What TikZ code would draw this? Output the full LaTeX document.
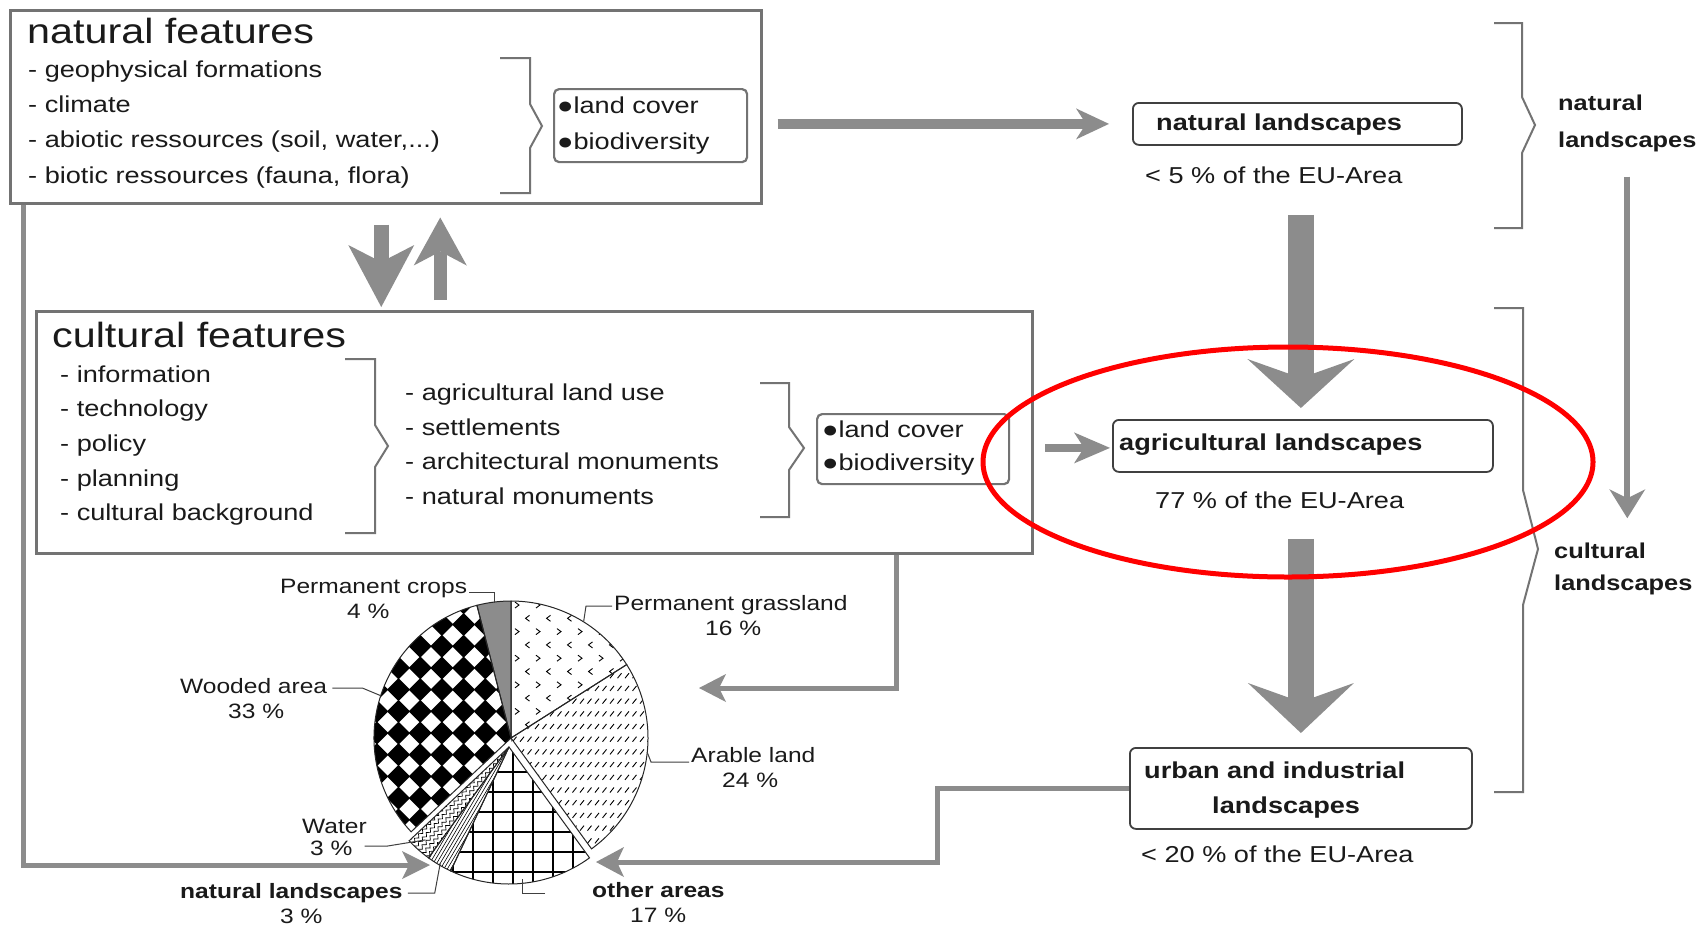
\documentclass[tikz,border=0pt]{standalone}
\usepackage{fontspec}
\setmainfont[FakeStretch=1.18]{Liberation Sans}
\usetikzlibrary{arrows.meta,calc,decorations.pathmorphing}
\definecolor{arr}{HTML}{8C8C8C}
\definecolor{boxc}{HTML}{737373}
\definecolor{ink}{HTML}{1A1A1A}
\newcommand\mybody{\fontsize{23}{28}\selectfont}
\newcommand\mytitle{\fontsize{35}{40}\selectfont}
\newcommand\mypie{\fontsize{20.8}{25}\selectfont}
\newcommand\myright{\fontsize{21.5}{26}\selectfont\bfseries}
\begin{document}
\begin{tikzpicture}[x=1pt,y=1pt,
  every node/.style={inner sep=0pt, text=ink},
  fbox/.style={draw=boxc, line width=2.5pt, anchor=north west},
  lcbox/.style={draw=boxc, line width=2.2pt, rounded corners=5pt, anchor=north west},
  lsbox/.style={draw=black!75, line width=1.8pt, rounded corners=6pt, anchor=north west},
  tx/.style={anchor=base west, font=\mybody},
  tb/.style={anchor=base west, font=\mybody\bfseries},
  ttl/.style={anchor=base west, font=\mytitle},
  tp/.style={anchor=base west, font=\mypie},
  tpb/.style={anchor=base west, font=\mypie\bfseries},
  tr/.style={anchor=base west, font=\myright},
  brc/.style={draw=boxc, line width=2pt},
  leader/.style={draw=black!75, line width=1pt},
  slc/.style={draw=black!85, line width=1pt}
]
\useasboundingbox (0,0) rectangle (1704,-929);
\fill[white] (0,0) rectangle (1704,-929);

% ---------- natural features ----------
\node[fbox, minimum width=751pt, minimum height=193pt] (nf) at (9,-9) {};
\node[ttl] (nft) at (27,-43) {natural features};
\node[tx] (nf1) at (28,-77) {- geophysical formations};
\node[tx] (nf2) at (28,-112) {- climate};
\node[tx] (nf3) at (28,-147) {- abiotic ressources (soil, water,...)};
\node[tx] (nf4) at (28,-183) {- biotic ressources (fauna, flora)};
\draw[brc] (500,-58) -- (530,-58) -- (530,-104) -- (542,-126) -- (530,-148) -- (530,-193) -- (500,-193);
\node[lcbox, minimum width=193pt, minimum height=73pt] (lc1) at (553,-88) {};
\node[tx] (lc1a) at (557,-113) {●land cover};
\node[tx] (lc1b) at (557,-149) {●biodiversity};

% ---------- cultural features ----------
\node[fbox, minimum width=996pt, minimum height=242pt] (cf) at (35,-310) {};
\node[ttl] (cft) at (52,-347) {cultural features};
\node[tx] (c11) at (60,-382) {- information};
\node[tx] (c12) at (60,-416) {- technology};
\node[tx] (c13) at (60,-451) {- policy};
\node[tx] (c14) at (60,-486) {- planning};
\node[tx] (c15) at (60,-520) {- cultural background};
\draw[brc] (345,-359) -- (375,-359) -- (375,-425) -- (388,-446) -- (375,-467) -- (375,-533) -- (345,-533);
\node[tx] (c21) at (405,-400) {- agricultural land use};
\node[tx] (c22) at (405,-435) {- settlements};
\node[tx] (c23) at (405,-469) {- architectural monuments};
\node[tx] (c24) at (405,-504) {- natural monuments};
\draw[brc] (760,-383) -- (789,-383) -- (789,-427) -- (804,-448) -- (789,-470) -- (789,-517) -- (760,-517);
\node[lcbox, minimum width=192pt, minimum height=70pt] (lc2) at (816,-413) {};
\node[tx] (lc2a) at (822,-437) {●land cover};
\node[tx] (lc2b) at (822,-470) {●biodiversity};

% ---------- landscapes ----------
\node[lsbox, minimum width=329pt, minimum height=42pt] (natl) at (1132,-102) {};
\node[tb] (natlt) at (1156,-130) {natural landscapes};
\node[tx] (natlp) at (1145,-183) {< 5 \% of the EU-Area};
\node[lsbox, minimum width=380pt, minimum height=52pt] (agri) at (1112,-419) {};
\node[tb] (agrit) at (1119,-450) {agricultural landscapes};
\node[tx] (agrip) at (1155,-508) {77 \% of the EU-Area};
\node[lsbox, minimum width=342pt, minimum height=81pt] (urban) at (1129,-747) {};
\node[tb] (urbt1) at (1144,-778) {urban and industrial};
\node[tb] (urbt2) at (1212,-813) {landscapes};
\node[tx] (urbp) at (1141,-862) {< 20 \% of the EU-Area};

\draw[brc] (1494,-23) -- (1522,-23) -- (1522,-97) -- (1535,-125) -- (1522,-153) -- (1522,-228) -- (1494,-228);
\draw[brc] (1494,-308) -- (1523,-308) -- (1523,-490) -- (1538,-549) -- (1523,-605) -- (1523,-792) -- (1494,-792);
\node[tr] (rl1a) at (1558,-110) {natural};
\node[tr] (rl1b) at (1558,-147) {landscapes};
\node[tr] (rl2a) at (1554,-558) {cultural};
\node[tr] (rl2b) at (1554,-590) {landscapes};

% ---------- pie ----------
\coordinate (C) at (511,-738);
\coordinate (C2) at (509,-747);
\def\R{137}
\def\slice#1#2#3{(#1) -- ++(#2:\R) arc[start angle=#2, end angle=#3, radius=\R] -- cycle}
% wooded
\begin{scope}
\clip \slice{C}{104.4}{223.2};
\foreach \i in {0,...,7}{\foreach \j in {-7,...,8}{
  \fill[black] (507-\i*21.7,-733+\j*21.7) +(0,11.5) -- +(11.5,0) -- +(0,-11.5) -- +(-11.5,0) -- cycle;
}}
\end{scope}
% grassland
\begin{scope}
\clip \slice{C}{32.4}{90};
\foreach \i in {0,...,7}{\foreach \j in {0,...,11}{
  \pgfmathtruncatemacro\pp{mod(\j,2)}
  \ifnum\pp=0
    \draw[line width=0.9pt] (515+\i*21,-602-\j*13.3) -- ++(4,-3) -- ++(-4,-3);
  \else
    \draw[line width=0.9pt] (529.5+\i*21,-602-\j*13.3) -- ++(-4,-3) -- ++(4,-3);
  \fi
}}
\end{scope}
% arable
\begin{scope}
\clip \slice{C}{-54}{32.4};
\foreach \i in {0,...,19}{\foreach \j in {0,...,21}{
  \draw[line width=0.9pt] (505+\i*7.5,-602-\j*12.7) -- ++(4,5);
}}
\end{scope}
% other areas
\begin{scope}
\clip \slice{C2}{-115.2}{-54};
\foreach \k in {-3,...,7}{ \draw[line width=1.5pt] (473+\k*20,-740) -- (473+\k*20,-900); }
\foreach \k in {0,...,6}{ \draw[line width=1.5pt] (420,-772-\k*20) -- (620,-772-\k*20); }
\end{scope}
% natural landscapes
\begin{scope}
\clip \slice{C2}{-126}{-115.2};
\begin{scope}[shift={(C2)}, rotate=-120.6]
\foreach \o in {-15,-12,...,15}{ \draw[line width=0.6pt] (0,\o) -- (160,\o); }
\end{scope}
\end{scope}
% water
\begin{scope}
\clip \slice{C2}{-136.8}{-126};
\begin{scope}[shift={(C2)}, rotate=-131.4]
\foreach \o in {-14,-9,...,16}{ \draw[line width=0.7pt, decorate, decoration={snake, amplitude=1.6pt, segment length=6pt}] (0,\o) -- (160,\o); }
\end{scope}
\end{scope}
% crops
\fill[arr] \slice{C}{90}{104.4};
% outlines
\draw[slc] \slice{C}{104.4}{223.2};
\draw[slc] \slice{C}{90}{104.4};
\draw[slc] \slice{C}{32.4}{90};
\draw[slc] \slice{C}{-54}{32.4};
\draw[slc] \slice{C2}{-115.2}{-54};
\draw[slc] \slice{C2}{-126}{-115.2};
\draw[slc] \slice{C2}{-136.8}{-126};

% pie labels
\node[tp] (lpc) at (280,-593) {Permanent crops};
\node[tp] (lpcp) at (347,-618) {4 \%};
\node[tp] (lpg) at (614,-610) {Permanent grassland};
\node[tp] (lpgp) at (705,-635) {16 \%};
\node[tp] (lwa) at (180,-693) {Wooded area};
\node[tp] (lwap) at (228,-718) {33 \%};
\node[tp] (lal) at (691,-762) {Arable land};
\node[tp] (lalp) at (722,-787) {24 \%};
\node[tp] (lw) at (302,-833) {Water};
\node[tp] (lwp) at (310,-855) {3 \%};
\node[tpb] (lnl) at (180,-898) {natural landscapes};
\node[tp] (lnlp) at (280,-923) {3 \%};
\node[tpb] (loa) at (592,-897) {other areas};
\node[tp] (loap) at (630,-922) {17 \%};

\draw[leader] ($(lpc.base east)+(2,1)$) -| ($(C)+(97:136)$);
\draw[leader] ($(lpg.base west)+(-2,4)$) -- ++(-26,0) -- ($(C)+(58:137)$);
\draw[leader] ($(lwa.base east)+(5,5)$) -- ++(30,0) -- ($(C)+(162:137)$);
\draw[leader] ($(lal.base west)+(-2,0)$) -- ++(-38,0) -- ($(C)+(-6:137)$);
\draw[leader] ($(lwp.base east)+(12,9)$) -- ++(23,0) -- ($(C2)+(-132:125)$);
\draw[leader] ($(lnl.base east)+(5,5)$) -- ++(27,0) -- ($(C2)+(-120.6:135)$);
\draw[leader] ($(loa.base west)+(-47,4)$) -| ($(C2)+(-84:133)$);

% ---------- arrows ----------
\draw[draw=arr, line width=10pt, -{Stealth[length=33pt,width=31pt,inset=10pt,line width=0pt]}]
  ($(nf.east |- natl.west)+(15,0)$) -- ($(natl.west)+(-23,0)$);
\draw[draw=arr, line width=26pt, -{Stealth[length=49pt,width=107pt,inset=19pt,line width=0pt]}]
  ($(natl.south)+(3.5,-69)$) -- ($(agri.north)+(-2,11)$);
\draw[draw=arr, line width=26pt, -{Stealth[length=50pt,width=106pt,inset=19pt,line width=0pt]}]
  ($(agri.south)+(-2,-66)$) -- ($(urban.north)+(0,14)$);
\draw[draw=arr, line width=8pt, -{Stealth[length=36pt,width=31pt,inset=10pt,line width=0pt]}]
  ($(agri.west)+(-67,-2)$) -- ($(agri.west)+(-2,-2)$);
\draw[draw=arr, line width=6pt, -{Stealth[length=29pt,width=36pt,inset=9pt,line width=0pt]}]
  ($(rl1b.south)+(0,-25)$) -- ($(rl1b.south |- rl2a.north)+(0,24)$);
\draw[draw=arr, line width=15pt, -{Stealth[length=62pt,width=66pt,inset=17pt,line width=0pt]}]
  ($(nf.south)+(-4.5,-20)$) -- ($(nf.south |- cf.north)+(-4.5,3)$);
\draw[draw=arr, line width=13pt, -{Stealth[length=48pt,width=53pt,inset=14pt,line width=0pt]}]
  ($(nf.south |- cf.north)+(54.5,10)$) -- ($(nf.south)+(54.5,-13)$);
\draw[draw=arr, line width=5pt, -{Stealth[length=27pt,width=28pt,inset=7pt,line width=0pt]}]
  ($(cf.south east)+(-137,0)$) |- ($(C)+(188,50)$);
\draw[draw=arr, line width=5pt, -{Stealth[length=28pt,width=28pt,inset=7pt,line width=0pt]}]
  ($(nf.south west)+(14,0)$) |- ($(C)+(-81,-127)$);
\draw[draw=arr, line width=5pt, -{Stealth[length=28pt,width=30pt,inset=7pt,line width=0pt]}]
  (urban.west) -- ++(-192,0) |- ($(C)+(85,-124)$);

% ---------- highlight ----------
\draw[red, line width=5pt] (1288,-462) ellipse [x radius=305, y radius=115];
\end{tikzpicture}
\end{document}
